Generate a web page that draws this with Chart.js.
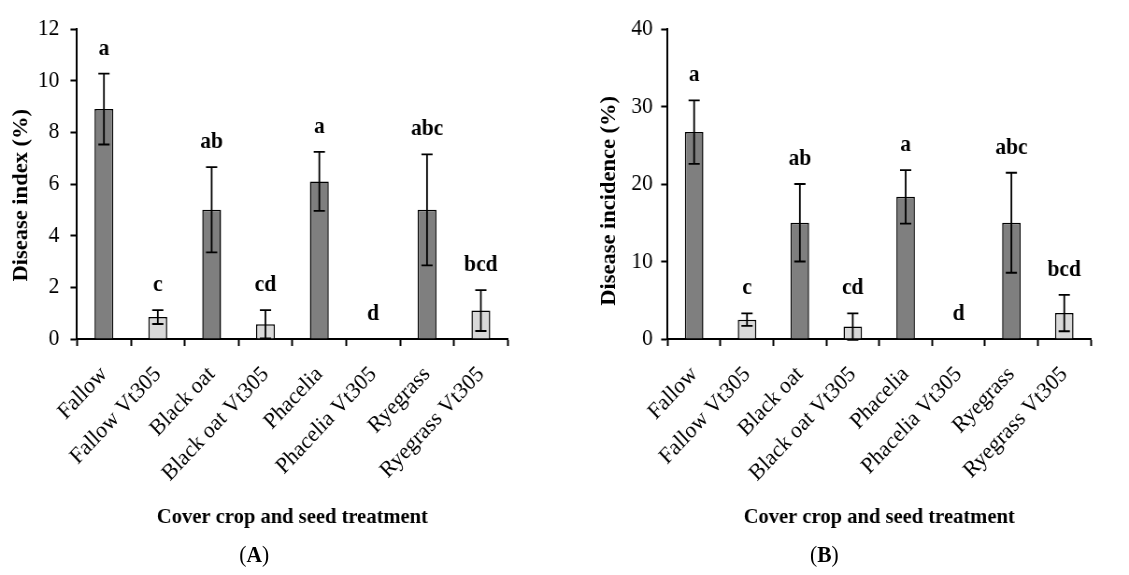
<!doctype html>
<html>
    <head>
        <meta charset="UTF-8" />
        <script src="https://cdn.jsdelivr.net/npm/chart.js"></script>
        <style>
            body { margin: 0; background: #fff; overflow: hidden; }
            /* figure is laid out 1208 wide and squeezed to 1129, like the source image */
            .wrap {
                position: relative; width: 1208px; height: 575px;
                transform: scaleX(0.9346); transform-origin: 0 0;
            }
            #chartA { position: absolute; left: 0; top: 0; }
            #chartB { position: absolute; left: 599px; top: 0; }
            .panel {
                position: absolute; top: 541px; width: 60px; margin-left: -30px;
                text-align: center; font: 23px 'Liberation Serif', serif; line-height: 28px; color: #000;
            }
        </style>
    </head>
    <body>
        <div class="wrap">
            <canvas id="chartA" width="599" height="575"></canvas>
            <canvas id="chartB" width="609" height="575"></canvas>
            <div class="panel" style="left: 272px">(<b>A</b>)</div>
            <div class="panel" style="left: 882px">(<b>B</b>)</div>
        </div>
        <script>
            const categories = [
                "Fallow", "Fallow Vt305", "Black oat", "Black oat Vt305",
                "Phacelia", "Phacelia Vt305", "Ryegrass", "Ryegrass Vt305",
            ];
            // (A) disease index (%)
            const indexValues = [8.9, 0.85, 5.0, 0.57, 6.1, 0, 5.0, 1.1];
            const indexErrors = [1.37, 0.27, 1.65, 0.55, 1.14, 0, 2.15, 0.79];
            const indexLetters = ["a", "c", "ab", "cd", "a", "d", "abc", "bcd"];
            const indexTicks = { max: 12, step: 2 };
            // (B) disease incidence (%)
            const incidenceValues = [26.7, 2.5, 15.0, 1.6, 18.35, 0, 15.0, 3.35];
            const incidenceErrors = [4.1, 0.8, 5.0, 1.7, 3.45, 0, 6.45, 2.35];
            const incidenceLetters = ["a", "c", "ab", "cd", "a", "d", "abc", "bcd"];
            const incidenceTicks = { max: 40, step: 10 };

            const FONT = "'Liberation Serif', 'Times New Roman', serif";

            // error bars + significance letters, placed with the y scale
            const errorBars = {
                id: "errorBars",
                afterDatasetsDraw(chart, args, opts) {
                    const { ctx } = chart;
                    const y = chart.scales.y;
                    const ds = chart.data.datasets[0];
                    const meta = chart.getDatasetMeta(0);
                    ctx.save();
                    ctx.strokeStyle = "#000";
                    ctx.lineWidth = 1.8;
                    ctx.fillStyle = "#000";
                    ctx.font = "bold 23px " + FONT;
                    ctx.textAlign = "center";
                    ctx.textBaseline = "middle";
                    meta.data.forEach((bar, i) => {
                        const v = ds.data[i];
                        const e = opts.errors[i];
                        const top = y.getPixelForValue(v + e);
                        const bot = y.getPixelForValue(v - e);
                        if (e > 0) {
                            ctx.beginPath();
                            ctx.moveTo(bar.x, top);
                            ctx.lineTo(bar.x, bot);
                            ctx.moveTo(bar.x - 6, top);
                            ctx.lineTo(bar.x + 6, top);
                            ctx.moveTo(bar.x - 6, bot);
                            ctx.lineTo(bar.x + 6, bot);
                            ctx.stroke();
                        }
                        ctx.fillText(opts.letters[i], bar.x, top - 25);
                    });
                    ctx.restore();
                },
            };

            const makeChart = (id, values, errors, letters, ticks, yTitle, yWidth, yTitlePad, tickPad, padRight) => {
                new Chart(document.getElementById(id), {
                    type: "bar",
                    data: {
                        labels: categories,
                        datasets: [
                            {
                                data: values,
                                backgroundColor: values.map((v, i) => (i % 2 ? "#d9d9d9" : "#7f7f7f")),
                                borderColor: "#000",
                                borderWidth: 1.5,
                                categoryPercentage: 1,
                                barPercentage: 0.35,
                            },
                        ],
                    },
                    options: {
                        responsive: false,
                        animation: false,
                        layout: { padding: { top: 29, right: padRight, left: 0, bottom: 36 } },
                        plugins: {
                            legend: { display: false },
                            tooltip: { enabled: false },
                            errorBars: { errors: errors, letters: letters },
                        },
                        scales: {
                            x: {
                                border: { color: "#000", width: 2 },
                                grid: {
                                    offset: true,
                                    drawOnChartArea: false,
                                    tickLength: 7,
                                    tickColor: "#000",
                                    tickWidth: 2,
                                },
                                ticks: {
                                    color: "#000",
                                    minRotation: 45,
                                    maxRotation: 45,
                                    padding: 15,
                                    font: { family: FONT, size: 23 },
                                },
                                title: {
                                    display: true,
                                    text: "Cover crop and seed treatment",
                                    color: "#000",
                                    font: { family: FONT, size: 22, weight: "bold" },
                                    padding: { top: 0, bottom: 8 },
                                },
                                afterFit: (s) => { s.height = 200; },
                            },
                            y: {
                                min: 0,
                                max: ticks.max,
                                border: { color: "#000", width: 2 },
                                grid: {
                                    drawOnChartArea: false,
                                    tickLength: 7,
                                    tickColor: "#000",
                                    tickWidth: 2,
                                },
                                ticks: {
                                    stepSize: ticks.step,
                                    color: "#000",
                                    padding: tickPad,
                                    font: { family: FONT, size: 23 },
                                },
                                title: {
                                    display: true,
                                    text: yTitle,
                                    color: "#000",
                                    font: { family: FONT, size: 22.5, weight: "bold" },
                                    padding: { top: yTitlePad, bottom: 0 },
                                },
                                afterFit: (s) => { s.width = yWidth; },
                            },
                        },
                    },
                    plugins: [errorBars],
                });
            };

            makeChart("chartA", indexValues, indexErrors, indexLetters, indexTicks, "Disease index (%)    ", 82.4, 10, 12, 55.7);
            makeChart("chartB", incidenceValues, incidenceErrors, incidenceLetters, incidenceTicks, "Disease incidence (%)      ", 115.4, 40, 9, 41);
        </script>
    </body>
</html>
